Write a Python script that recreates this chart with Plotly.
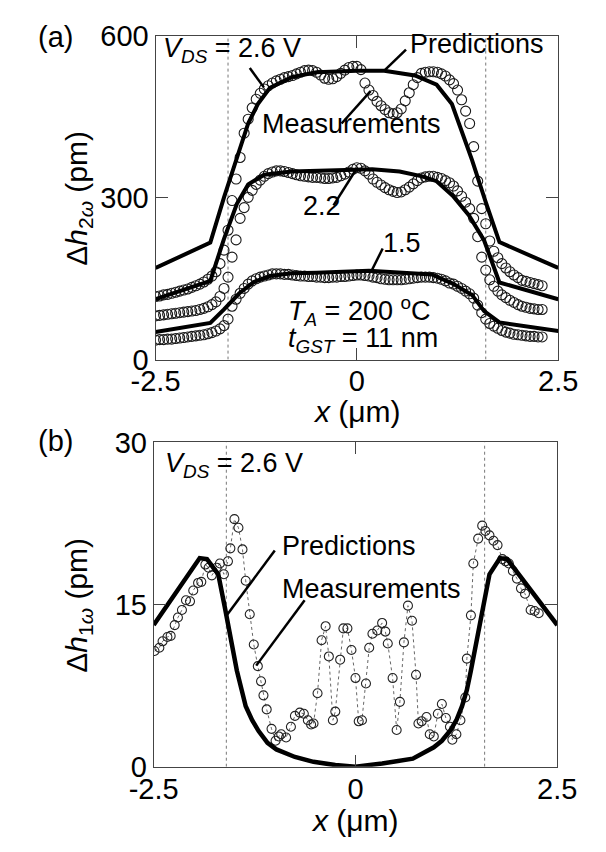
import plotly.graph_objects as go

# ---------------- Panel (a): second-harmonic expansion ----------------
X_MEAS = [-2.50, -2.45, -2.40, -2.35, -2.30, -2.25, -2.20, -2.15, -2.10, -2.05,
          -2.00, -1.95, -1.90, -1.85, -1.80, -1.75, -1.70, -1.65, -1.60, -1.55,
          -1.50, -1.45, -1.40, -1.35, -1.30, -1.25, -1.20, -1.15, -1.10, -1.05,
          -1.00, -0.95, -0.90, -0.85, -0.80, -0.75, -0.70, -0.65, -0.60, -0.55,
          -0.50, -0.45, -0.40, -0.35, -0.30, -0.25, -0.20, -0.15, -0.10, -0.05,
          0.00, 0.05, 0.10, 0.15, 0.20, 0.25, 0.30, 0.35, 0.40, 0.45,
          0.50, 0.55, 0.60, 0.65, 0.70, 0.75, 0.80, 0.85, 0.90, 0.95,
          1.00, 1.05, 1.10, 1.15, 1.20, 1.25, 1.30, 1.35, 1.40, 1.45,
          1.50, 1.55, 1.60, 1.65, 1.70, 1.75, 1.80, 1.85, 1.90, 1.95,
          2.00, 2.05, 2.10, 2.15, 2.20, 2.25, 2.30]

MEAS_26 = [117, 118, 120, 121, 123, 125, 127, 129, 131, 134,
           137, 140, 144, 149, 155, 163, 178, 203, 240, 295,
           335, 375, 420, 446, 467, 483, 494, 502, 508, 513,
           517, 520, 523, 525, 527, 530, 533, 536, 537, 536,
           533, 528, 522, 520, 521, 525, 531, 537, 542, 544,
           544, 538, 513, 500, 490, 479, 471, 464, 458, 456,
           458, 465, 480, 495, 510, 523, 531, 533, 534, 534,
           533, 530, 526, 519, 512, 500, 482, 461, 438, 395,
           331, 280, 252, 220, 201, 189, 178, 170, 163, 157,
           152, 147, 145, 143, 141, 139, 137]

MEAS_22 = [81, 82, 83, 84, 85, 86, 87, 88, 89, 90,
           91, 93, 95, 98, 102, 107, 117, 132, 153, 190,
           222, 262, 282, 301, 314, 325, 333, 340, 345, 348,
           350, 350, 349, 347, 345, 343, 341, 340, 339, 338,
           338, 337, 336, 336, 337, 338, 341, 344, 348, 353,
           356, 355, 350, 344, 335, 329, 324, 319, 315, 312,
           310, 311, 315, 320, 326, 332, 337, 339, 340, 340,
           338, 336, 332, 328, 322, 313, 303, 292, 280, 262,
           228, 190, 166, 148, 136, 127, 120, 115, 110, 106,
           102, 99, 97, 95, 94, 93, 93]

MEAS_15 = [36, 37, 37, 38, 38, 39, 40, 41, 42, 43,
           44, 45, 46, 48, 50, 53, 57, 63, 75, 99,
           112, 123, 132, 140, 146, 150, 153, 155, 157, 159,
           159, 159, 158, 158, 157, 156, 155, 155, 154, 154,
           153, 153, 152, 152, 153, 153, 154, 154, 155, 156,
           157, 157, 156, 155, 153, 152, 150, 149, 148, 148,
           148, 148, 149, 150, 151, 152, 153, 153, 153, 152,
           151, 149, 146, 142, 140, 136, 132, 127, 122, 114,
           101, 87, 75, 67, 62, 58, 54, 51, 49, 47,
           46, 45, 44, 43, 43, 42, 42]

PRED_26_X = [-2.5, -1.82, -1.65, -1.48, -1.35, -1.23, -1.08, -0.81, -0.5, 0.0,
             0.34, 0.72, 0.99, 1.18, 1.31, 1.43, 1.60, 1.77, 2.5]
PRED_26_Y = [170, 217, 301, 379, 438, 474, 504, 524, 533, 536,
             536, 527, 510, 474, 420, 370, 292, 218, 170]

PRED_22_X = [-2.5, -1.82, -1.65, -1.49, -1.35, -1.15, -0.81, -0.5, 0.19, 0.53,
             0.81, 0.99, 1.19, 1.39, 1.58, 1.77, 2.5]
PRED_22_Y = [112, 146, 224, 289, 325, 343, 349, 350, 353, 349,
             340, 331, 304, 268, 221, 143, 112]

PRED_15_X = [-2.5, -1.82, -1.65, -1.46, -1.28, -1.08, -0.81, -0.5, 0.15, 0.81,
             0.93, 1.19, 1.43, 1.58, 1.77, 2.5]
PRED_15_Y = [51, 68, 93, 123, 144, 155, 160, 161, 165, 158,
             158, 141, 120, 90, 69, 53]

# ---------------- Panel (b): first-harmonic expansion ----------------
B_MEAS_X = [-2.49, -2.43, -2.39, -2.33, -2.29, -2.24, -2.20, -2.15, -2.10, -2.05,
            -2.01, -1.95, -1.91, -1.86, -1.82, -1.78, -1.72, -1.68, -1.63, -1.58,
            -1.55, -1.50, -1.45, -1.40, -1.36, -1.31, -1.26, -1.21, -1.17, -1.14,
            -1.10, -1.04, -0.99, -0.95, -0.92, -0.86, -0.80, -0.75, -0.69, -0.64,
            -0.59, -0.55, -0.52, -0.47, -0.42, -0.37, -0.33, -0.28, -0.25, -0.19,
            -0.15, -0.10, -0.05, 0.00, 0.04, 0.08, 0.13, 0.17, 0.21, 0.27,
            0.33, 0.37, 0.40, 0.46, 0.51, 0.55, 0.60, 0.65, 0.70, 0.75,
            0.78, 0.82, 0.88, 0.92, 0.97, 1.02, 1.07, 1.12, 1.17, 1.20,
            1.25, 1.30, 1.36, 1.38, 1.43, 1.46, 1.52, 1.57, 1.61, 1.66,
            1.71, 1.76, 1.82, 1.86, 1.90, 1.95, 2.00, 2.05, 2.10, 2.17,
            2.22, 2.27]
B_MEAS_Y = [10.7, 11.0, 11.6, 12.0, 12.1, 13.1, 13.8, 14.5, 15.4, 15.3,
            16.3, 17.0, 17.1, 18.7, 18.4, 17.7, 18.4, 18.8, 17.8, 19.0,
            20.2, 22.9, 22.1, 20.1, 17.2, 14.1, 11.3, 9.3, 7.9, 6.6,
            5.3, 3.5, 2.4, 2.8, 3.0, 2.7, 3.7, 4.7, 5.0, 4.9,
            4.3, 3.9, 4.0, 6.8, 11.7, 13.0, 10.2, 4.3, 5.1, 9.9,
            12.8, 12.8, 10.8, 8.2, 4.2, 4.3, 7.7, 11.0, 12.3, 12.6,
            13.3, 12.5, 11.4, 8.2, 3.4, 6.0, 11.5, 14.9, 13.5, 8.5,
            4.0, 4.2, 4.6, 3.0, 2.8, 4.9, 5.8, 4.5, 3.7, 2.5,
            3.0, 4.3, 6.4, 10.0, 14.0, 18.8, 21.1, 22.3, 21.8, 21.4,
            20.9, 20.5, 19.2, 19.0, 18.8, 18.1, 17.4, 16.5, 16.0, 14.5,
            14.4, 14.2]

B_PRED_X = [-2.5, -1.93, -1.84, -1.70, -1.62, -1.55, -1.47, -1.41, -1.36, -1.28,
            -1.20, -1.09, -0.98, -0.75, -0.52, -0.25, 0.0, 0.33, 0.71, 0.97,
            1.07, 1.17, 1.25, 1.32, 1.38, 1.43, 1.55, 1.66, 1.79, 1.88, 2.5]
B_PRED_Y = [13.1, 19.3, 19.2, 17.8, 14.8, 11.9, 8.9, 7.1, 5.6, 4.3,
            3.3, 2.2, 1.6, 0.9, 0.45, 0.15, 0.0, 0.3, 0.74, 1.8,
            2.4, 3.3, 4.3, 5.6, 7.1, 8.9, 13.6, 17.8, 19.3, 19.2, 13.1]

CHANNEL_EDGES = [-1.6, 1.6]
X_TICKS = [-2.5, 0, 2.5]
X_TICK_TEXT = ["-2.5", "0", "2.5"]
YA_TICKS = [0, 300, 600]
YB_TICKS = [0, 15, 30]

assert len(X_MEAS) == len(MEAS_26) == len(MEAS_22) == len(MEAS_15)
assert len(B_MEAS_X) == len(B_MEAS_Y)
assert len(B_PRED_X) == len(B_PRED_Y)

FONT = "Liberation Sans, Arial, sans-serif"
BLACK = "#000000"

fig = go.Figure()

# panel (a) measurements
for ys in (MEAS_26, MEAS_22, MEAS_15):
    fig.add_trace(go.Scatter(
        x=X_MEAS, y=ys, mode="markers", xaxis="x", yaxis="y",
        marker=dict(symbol="circle-open", size=10, color="#1a1a1a",
                    line=dict(width=1.1)),
        showlegend=False, hoverinfo="skip"))

# panel (a) predictions
for xs, ys in ((PRED_26_X, PRED_26_Y), (PRED_22_X, PRED_22_Y), (PRED_15_X, PRED_15_Y)):
    fig.add_trace(go.Scatter(
        x=xs, y=ys, mode="lines", xaxis="x", yaxis="y",
        line=dict(color=BLACK, width=4), showlegend=False, hoverinfo="skip"))

# panel (b) measurements
fig.add_trace(go.Scatter(
    x=B_MEAS_X, y=B_MEAS_Y, mode="lines+markers", xaxis="x2", yaxis="y2",
    line=dict(color="#666666", width=1, dash="dot"),
    marker=dict(symbol="circle-open", size=9, color="#222222", line=dict(width=1.1)),
    showlegend=False, hoverinfo="skip"))

# panel (b) prediction
fig.add_trace(go.Scatter(
    x=B_PRED_X, y=B_PRED_Y, mode="lines", xaxis="x2", yaxis="y2",
    line=dict(color=BLACK, width=4.5), showlegend=False, hoverinfo="skip"))

shapes = []
for xe in CHANNEL_EDGES:
    shapes.append(dict(type="line", xref="x", yref="y", x0=xe, x1=xe, y0=0, y1=600,
                       line=dict(color="#777777", width=1, dash="dot"), layer="below"))
    shapes.append(dict(type="line", xref="x2", yref="y2", x0=xe, x1=xe, y0=0, y1=30,
                       line=dict(color="#777777", width=1, dash="dot"), layer="below"))

# leader lines (annotation pointers)
leaders_a = [(-1.33, 541, -1.155, 505),
             (0.61, 575, 0.34, 536),
             (0.17, 498, -0.19, 438),
             (-0.29, 286, 0.0, 355),
             (0.32, 206, 0.17, 161)]
for x0, y0, x1, y1 in leaders_a:
    shapes.append(dict(type="line", xref="x", yref="y", x0=x0, y0=y0, x1=x1, y1=y1,
                       line=dict(color=BLACK, width=2.5)))
leaders_b = [(-1.00, 20.0, -1.59, 14.06),
             (-0.63, 15.4, -1.23, 9.35)]
for x0, y0, x1, y1 in leaders_b:
    shapes.append(dict(type="line", xref="x2", yref="y2", x0=x0, y0=y0, x1=x1, y1=y1,
                       line=dict(color=BLACK, width=2.5)))

TXT = 27
def ann(text, x, y, xref, yref, size=TXT, xanchor="left", yanchor="middle", angle=0):
    return dict(text=text, x=x, y=y, xref=xref, yref=yref, showarrow=False,
                xanchor=xanchor, yanchor=yanchor, textangle=angle,
                font=dict(family=FONT, size=size, color=BLACK))

annotations = [
    ann("<i>V</i><sub><i>DS</i></sub> = 2.6 V", -2.43, 574, "x", "y"),
    ann("Predictions", 0.64, 585, "x", "y"),
    ann("Measurements", -1.20, 437, "x", "y"),
    ann("2.2", -0.70, 285, "x", "y"),
    ann("1.5", 0.30, 217, "x", "y"),
    ann("<i>T</i><sub><i>A</i></sub> = 200 <sup>o</sup>C", -0.88, 91, "x", "y"),
    ann("<i>t</i><sub><i>GST</i></sub> = 11 nm", -0.88, 36, "x", "y"),
    ann("<i>V</i><sub><i>DS</i></sub> = 2.6 V", -2.385, 27.9, "x2", "y2"),
    ann("Predictions", -0.93, 20.4, "x2", "y2"),
    ann("Measurements", -0.93, 16.4, "x2", "y2"),
    # panel labels & axis titles
    ann("(a)", 0.054, 0.975, "paper", "paper", size=29, xanchor="center"),
    ann("(b)", 0.054, 0.482, "paper", "paper", size=29, xanchor="center"),
    ann("Δ<i>h</i><sub>2<i>ω</i></sub> (pm)", 0.094, 0.778, "paper", "paper",
        size=30, xanchor="center", angle=-90),
    ann("Δ<i>h</i><sub>1<i>ω</i></sub> (pm)", 0.094, 0.2817, "paper", "paper",
        size=30, xanchor="center", angle=-90),
    ann("<i>x</i> (μm)", 0.592, 0.518, "paper", "paper", size=30, xanchor="center"),
    ann("<i>x</i> (μm)", 0.589, 0.019, "paper", "paper", size=30, xanchor="center"),
]

axis_common = dict(showgrid=False, zeroline=False, showline=True, linecolor="#444444",
                   linewidth=1, mirror="ticks", ticks="inside", ticklen=12,
                   tickwidth=1, tickcolor="#444444",
                   tickfont=dict(family=FONT, size=29, color=BLACK))

fig.update_layout(
    width=606, height=852,
    margin=dict(l=0, r=0, t=0, b=0),
    paper_bgcolor="white", plot_bgcolor="white",
    showlegend=False,
    xaxis=dict(domain=[0.2327, 0.9505], range=[-2.5, 2.5], anchor="y",
               tickvals=X_TICKS, ticktext=X_TICK_TEXT, ticklabelstandoff=-4,
               **axis_common),
    yaxis=dict(domain=[0.5810, 0.9754], range=[0, 600], anchor="x",
               tickvals=YA_TICKS, **axis_common),
    xaxis2=dict(domain=[0.2294, 0.9488], range=[-2.5, 2.5], anchor="y2",
                tickvals=X_TICKS, ticktext=X_TICK_TEXT, ticklabelstandoff=-4,
                **axis_common),
    yaxis2=dict(domain=[0.0845, 0.4800], range=[0, 30], anchor="x2",
                tickvals=YB_TICKS, **axis_common),
    shapes=shapes,
    annotations=annotations,
)

fig.write_html("out.html")
